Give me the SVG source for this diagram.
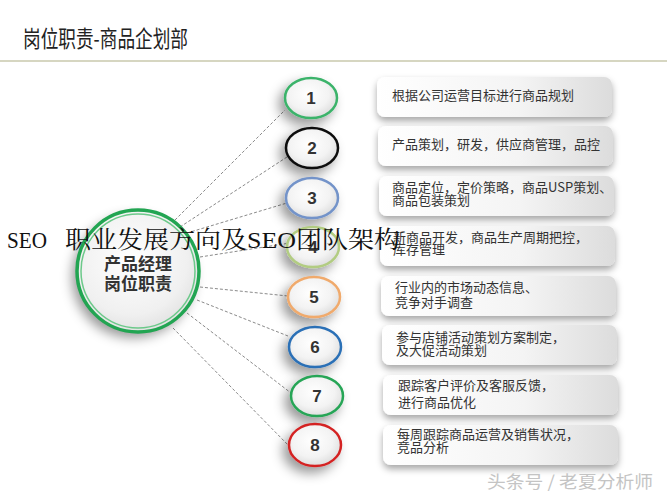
<svg xmlns="http://www.w3.org/2000/svg" width="667" height="500" viewBox="0 0 667 500">
<defs>
  <style>
    .title{font-family:"Noto Sans CJK SC","Liberation Sans",sans-serif;font-size:23px;fill:#222}
    .bt{font-family:"Noto Sans CJK SC","Liberation Sans",sans-serif;font-size:13px;fill:#333}
    .num{font-family:"Liberation Sans","Noto Sans CJK SC",sans-serif;font-size:17px;font-weight:bold;fill:#333;text-anchor:middle}
    .ctr{font-family:"Noto Sans CJK SC","Liberation Sans",sans-serif;font-size:17px;font-weight:bold;fill:#333;text-anchor:middle}
    .dash{stroke:#8a8a8a;stroke-width:1;stroke-dasharray:3 2;fill:none}
    .box{fill:url(#boxg)}
    .sc{fill:url(#cirg);stroke-width:2.5}
    .ov{font-family:"Liberation Serif","Noto Serif CJK SC","Noto Sans CJK SC",serif;font-size:24px;fill:#111}
    .wm{font-family:"Noto Sans CJK SC","Liberation Sans",sans-serif;font-size:17px;fill:#c4c4c4}
  </style>
  <linearGradient id="boxg" x1="0" y1="0" x2="1" y2="0">
    <stop offset="0" stop-color="#ffffff"/>
    <stop offset="0.6" stop-color="#f4f4f4"/>
    <stop offset="1" stop-color="#dcdcdc"/>
  </linearGradient>
  <radialGradient id="cirg" cx="0.45" cy="0.4" r="0.65">
    <stop offset="0" stop-color="#ffffff"/>
    <stop offset="0.6" stop-color="#f3f3f3"/>
    <stop offset="1" stop-color="#d9d9d9"/>
  </radialGradient>
  <radialGradient id="bigg" cx="0.45" cy="0.4" r="0.65">
    <stop offset="0" stop-color="#ffffff"/>
    <stop offset="0.7" stop-color="#f0f0f0"/>
    <stop offset="1" stop-color="#dedede"/>
  </radialGradient>
  <filter id="sh" x="-40%" y="-40%" width="180%" height="190%">
    <feDropShadow dx="-5" dy="6" stdDeviation="6" flood-color="#000" flood-opacity="0.4"/>
  </filter>
  <filter id="bsh" x="-10%" y="-30%" width="120%" height="170%">
    <feDropShadow dx="0" dy="4" stdDeviation="3.5" flood-color="#000" flood-opacity="0.35"/>
  </filter>
</defs>
<rect width="667" height="500" fill="#ffffff"/>
<g id="title">
  <text class="title" x="23" y="47" textLength="165" lengthAdjust="spacingAndGlyphs">岗位职责-商品企划部</text>
  <line x1="0" y1="61" x2="667" y2="61" stroke="#c9c9ad" stroke-width="1.5"/>
</g>
<g id="connectors">
  <line class="dash" x1="175" y1="220" x2="285" y2="110"/>
  <line class="dash" x1="180" y1="227" x2="287" y2="157"/>
  <line class="dash" x1="187" y1="233" x2="287" y2="203"/>
  <line class="dash" x1="200" y1="257" x2="290" y2="243"/>
  <line class="dash" x1="200" y1="287" x2="288" y2="296"/>
  <line class="dash" x1="197" y1="300" x2="288" y2="336"/>
  <line class="dash" x1="187" y1="313" x2="291" y2="393"/>
  <line class="dash" x1="173" y1="328" x2="290" y2="447"/>
</g>
<g id="center">
  <circle cx="138" cy="271" r="61" fill="url(#bigg)" filter="url(#sh)"/>
  <circle cx="138" cy="271" r="61" fill="none" stroke="#22a552" stroke-width="3.5"/>
  <circle cx="138" cy="271" r="57" fill="none" stroke="#6cc98a" stroke-width="1.5"/>
  <text class="ctr" x="138" y="270">产品经理</text>
  <text class="ctr" x="138" y="290">岗位职责</text>
</g>
<g id="n1"><ellipse class="sc" cx="311" cy="98" rx="26" ry="20" stroke="#3bb36a" filter="url(#sh)"/><text class="num" x="311" y="104">1</text>
  <rect class="box" x="377" y="77" width="235" height="40" rx="8" filter="url(#bsh)"/><text class="bt" x="392" y="100">根据公司运营目标进行商品规划</text></g>
<g id="n2"><ellipse class="sc" cx="312" cy="148" rx="26" ry="20" stroke="#111111" filter="url(#sh)"/><text class="num" x="312" y="154">2</text>
  <rect class="box" x="378" y="126" width="235" height="40" rx="8" filter="url(#bsh)"/><text class="bt" x="392" y="149">产品策划，研发，供应商管理，品控</text></g>
<g id="n3"><ellipse class="sc" cx="312" cy="198" rx="26" ry="20" stroke="#7393c9" filter="url(#sh)"/><text class="num" x="312" y="204">3</text>
  <rect class="box" x="379" y="176" width="235" height="40" rx="8" filter="url(#bsh)"/><text class="bt" x="392" y="192">商品定位，定价策略，商品USP策划、</text><text class="bt" x="392" y="205">商品包装策划</text></g>
<g id="n4"><ellipse class="sc" cx="313" cy="247" rx="26" ry="20" stroke="#b2cc82" filter="url(#sh)"/><text class="num" x="313" y="253">4</text>
  <rect class="box" x="380" y="226" width="235" height="40" rx="8" filter="url(#bsh)"/><text class="bt" x="393" y="242">新商品开发，商品生产周期把控，</text><text class="bt" x="393" y="254">库存管理</text></g>
<g id="n5"><ellipse class="sc" cx="314" cy="297" rx="26" ry="20" stroke="#f0aa6c" filter="url(#sh)"/><text class="num" x="314" y="303">5</text>
  <rect class="box" x="381" y="276" width="235" height="40" rx="8" filter="url(#bsh)"/><text class="bt" x="395" y="292">行业内的市场动态信息、</text><text class="bt" x="395" y="307">竞争对手调查</text></g>
<g id="n6"><ellipse class="sc" cx="315" cy="347" rx="26" ry="20" stroke="#2b6fb6" filter="url(#sh)"/><text class="num" x="315" y="353">6</text>
  <rect class="box" x="382" y="325" width="235" height="40" rx="8" filter="url(#bsh)"/><text class="bt" x="396" y="342">参与店铺活动策划方案制定，</text><text class="bt" x="396" y="355">及大促活动策划</text></g>
<g id="n7"><ellipse class="sc" cx="317" cy="396" rx="26" ry="20" stroke="#27a556" filter="url(#sh)"/><text class="num" x="317" y="402">7</text>
  <rect class="box" x="383" y="375" width="235" height="40" rx="8" filter="url(#bsh)"/><text class="bt" x="398" y="390">跟踪客户评价及客服反馈，</text><text class="bt" x="398" y="407">进行商品优化</text></g>
<g id="n8"><ellipse class="sc" cx="315" cy="445" rx="26" ry="21" stroke="#d42222" filter="url(#sh)"/><text class="num" x="315" y="451">8</text>
  <rect class="box" x="383" y="425" width="235" height="40" rx="8" filter="url(#bsh)"/><text class="bt" x="397" y="439">每周跟踪商品运营及销售状况，</text><text class="bt" x="397" y="452">竞品分析</text></g>
<g id="overlay">
  <text class="ov" x="7" y="248" textLength="40" lengthAdjust="spacingAndGlyphs">SEO</text>
  <text class="ov" x="65" y="248" textLength="335" lengthAdjust="spacingAndGlyphs">职业发展方向及SEO团队架构</text>
</g>
<g id="watermark">
  <text class="wm" x="487" y="488" textLength="166" lengthAdjust="spacingAndGlyphs">头条号 / 老夏分析师</text>
</g>
</svg>
